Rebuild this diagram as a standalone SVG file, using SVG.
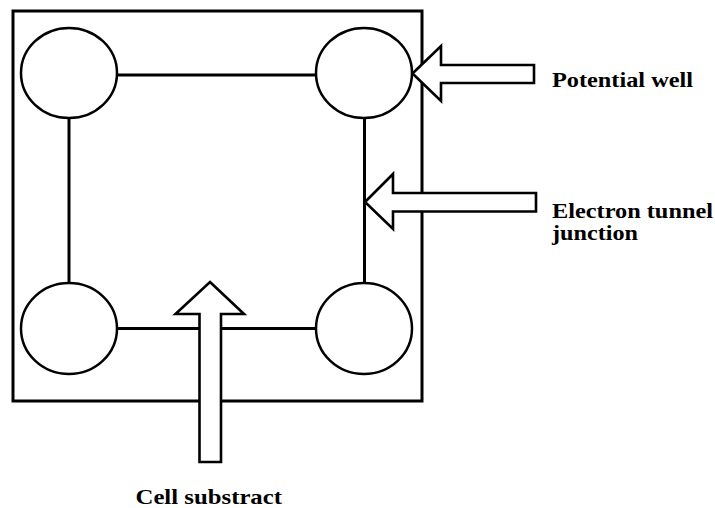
<svg xmlns="http://www.w3.org/2000/svg" width="715" height="508" viewBox="0 0 715 508">
<style>
.frame{fill:none;stroke:#000;stroke-width:3}
.well{fill:#fff;stroke:#000;stroke-width:2.5}
.link{stroke:#000;stroke-width:3;fill:none}
.arrow{fill:#fff;stroke:#000;stroke-width:2.6;stroke-linejoin:miter}
.lbl{font-family:"Liberation Serif","Times New Roman",serif;font-weight:bold;font-size:21px;fill:#000}
</style>
<rect width="715" height="508" fill="#fff"/>
<g id="substrate"><rect class="frame" x="13" y="11" width="409" height="390"/></g>
<g id="connectors">
<line class="link" x1="117" y1="75" x2="316" y2="75"/>
<line class="link" x1="69" y1="118" x2="69" y2="283"/>
<line class="link" x1="364.5" y1="118" x2="364.5" y2="283"/>
<line class="link" x1="117" y1="328.5" x2="316" y2="328.5"/>
</g>
<g id="well-tl"><ellipse class="well" cx="69" cy="73" rx="48" ry="45"/></g>
<g id="well-tr"><ellipse class="well" cx="364" cy="73" rx="48" ry="45"/></g>
<g id="well-bl"><ellipse class="well" cx="69" cy="328.5" rx="48" ry="45.5"/></g>
<g id="well-br"><ellipse class="well" cx="364" cy="328.5" rx="48" ry="45.5"/></g>
<g id="arrow-well"><polygon class="arrow" points="412.5,73.5 441,46 441,65 534,65 534,83 441,83 441,101"/></g>
<g id="arrow-junction"><polygon class="arrow" points="365,202 393,174 393,193 536,193 536,211.5 393,211.5 393,229"/></g>
<g id="arrow-substrate"><polygon class="arrow" points="210,282 244,314 221,314 221,462 199.5,462 199.5,314 175.5,314"/></g>
<g id="label-well"><text class="lbl" x="552" y="86.5" textLength="141" lengthAdjust="spacingAndGlyphs">Potential well</text></g>
<g id="label-junction"><text class="lbl" x="552" y="218" textLength="161" lengthAdjust="spacingAndGlyphs">Electron tunnel</text><text class="lbl" x="552" y="240" textLength="86" lengthAdjust="spacingAndGlyphs">junction</text></g>
<g id="label-substrate"><text class="lbl" x="135.5" y="503.5" textLength="146.5" lengthAdjust="spacingAndGlyphs">Cell substract</text></g>
</svg>
